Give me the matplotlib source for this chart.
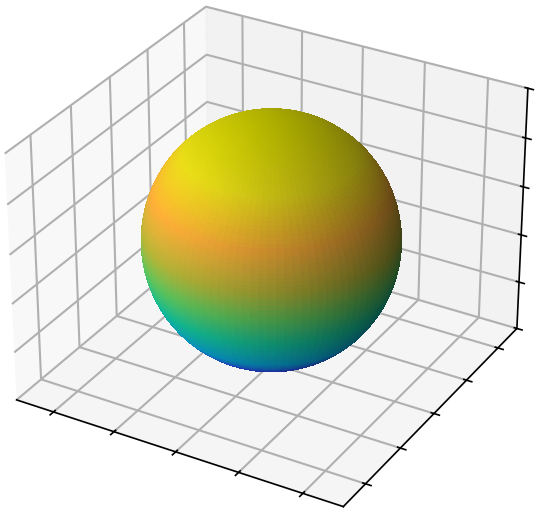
import numpy as np
import matplotlib
matplotlib.use('Agg')
import matplotlib.pyplot as plt
from matplotlib.colors import LinearSegmentedColormap

# configuracoes
DPI = 150
W, H = 535, 508

# dados
radius = 0.91
radius_z = 0.94
center_z = 0.035
n_lat = 100
n_lon = 100
x_ticks = [-1.0, -0.5, 0.0, 0.5, 1.0]
y_ticks = [-1.0, -0.5, 0.0, 0.5, 1.0]
z_ticks = [-1.0, -0.6, -0.2, 0.2, 0.6, 1.0]
x_lim = (-1.31, 1.31)
y_lim = (-1.31, 1.31)
z_lim = (-1.0, 1.0)
color_pos = [0.0, 0.11, 0.19, 0.33, 0.45, 0.57, 0.72, 0.88, 1.0]
color_hex = ['#2a30ff', '#2a50ff', '#08b0e8', '#14cca0', '#60cc60', '#b8b838',
             '#ffb038', '#f4e818', '#e4e400']

# esfera
u = np.linspace(0, 2*np.pi, n_lon)
v = np.linspace(0, np.pi, n_lat)
x = radius*np.outer(np.cos(u), np.sin(v))
y = radius*np.outer(np.sin(u), np.sin(v))
c = np.outer(np.ones_like(u), np.cos(v))
z = center_z + radius_z*c

cmap = LinearSegmentedColormap.from_list('esfera', list(zip(color_pos, color_hex)))

fig = plt.figure(figsize=(W/DPI, H/DPI), dpi=DPI)
ax = fig.add_axes([-0.08, -0.0695, 1.145, 1.145], projection='3d')
ax.set_box_aspect((4, 4, 3))
ax.plot_surface(x, y, z, facecolors=cmap((c + 1)/2), rcount=n_lat, ccount=n_lon,
                linewidth=0, antialiased=False, shade=True)

ax.set_xlim(*x_lim)
ax.set_ylim(*y_lim)
ax.set_zlim(*z_lim)
ax.set_xticks(x_ticks)
ax.set_yticks(y_ticks)
ax.set_zticks(z_ticks)
ax.set_xticklabels([])
ax.set_yticklabels([])
ax.set_zticklabels([])
for axis in (ax.xaxis, ax.yaxis, ax.zaxis):
    axis._axinfo['grid']['linewidth'] = 1.0

fig.savefig('out.png', dpi=DPI)
